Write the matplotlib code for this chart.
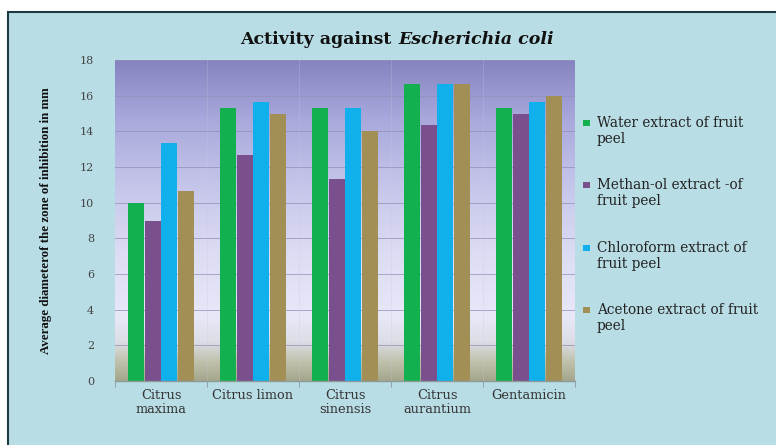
import numpy as np
import matplotlib.pyplot as plt
from matplotlib.colors import LinearSegmentedColormap
from matplotlib.patches import Rectangle

categories = ["Citrus\nmaxima", "Citrus limon", "Citrus\nsinensis", "Citrus\naurantium", "Gentamicin"]
series_names = [
    "Water extract of fruit\npeel",
    "Methan-ol extract -of\nfruit peel",
    "Chloroform extract of\nfruit peel",
    "Acetone extract of fruit\npeel",
]
water = [10.0, 15.33, 15.33, 16.67, 15.33]
methanol = [9.0, 12.67, 11.33, 14.33, 15.0]
chloroform = [13.33, 15.67, 15.33, 16.67, 15.67]
acetone = [10.67, 15.0, 14.0, 16.67, 16.0]
yticks = [0, 2, 4, 6, 8, 10, 12, 14, 16, 18]

series = [water, methanol, chloroform, acetone]
colors = ["#12b04e", "#7a4f8e", "#10b0ec", "#a18f55"]

wide = ["DejaVu Serif"]
plt.rcParams["font.family"] = ["Liberation Serif", "DejaVu Serif"]

W, H = 776, 445
fig = plt.figure(figsize=(W / 100, H / 100), dpi=100, facecolor="white")

# light blue chart panel with a dark frame along the top and left
fig.patches.append(Rectangle((8 / W, -0.05), 1.1, 1 - 12 / H + 0.05,
                             transform=fig.transFigure, facecolor="#b9dde5",
                             edgecolor="#1f3b42", linewidth=1.5, zorder=-10))

ax = fig.add_axes([115 / W, 1 - 381 / H, 460 / W, 321 / H])
ax.set_xlim(-0.5, len(categories) - 0.5)
ax.set_ylim(0, 18)

# vertical gradient behind the bars
stops = [
    (0.00, "#a4a78c"),
    (0.06, "#c0c2ac"),
    (0.12, "#dcdde6"),
    (0.20, "#e8e8f8"),
    (0.40, "#dcdcf4"),
    (0.62, "#c4c4ea"),
    (0.82, "#a8a8dc"),
    (1.00, "#8684c0"),
]
cmap = LinearSegmentedColormap.from_list("panel", stops)
grad = np.linspace(0, 1, 256).reshape(-1, 1)
ax.imshow(grad, cmap=cmap, origin="lower", aspect="auto",
          extent=(-0.5, len(categories) - 0.5, 0, 18), zorder=0)

for y in yticks[1:]:
    ax.axhline(y, color="#9290b8", linewidth=0.7, alpha=0.75, zorder=1)
for xb in np.arange(0.5, len(categories) - 0.5, 1):
    ax.axvline(xb, color="#c8c8dc", linewidth=0.6, alpha=0.3, zorder=1)

x = np.arange(len(categories))
width = 0.18
for i, (vals, name, col) in enumerate(zip(series, series_names, colors)):
    ax.bar(x + (i - 1.5) * width, vals, width * 0.94, color=col, label=name, zorder=2)

for s in ["top", "right", "left"]:
    ax.spines[s].set_visible(False)
ax.spines["bottom"].set_color("#8d9a9a")
ax.spines["bottom"].set_linewidth(1.0)

ax.set_yticks(yticks)
ax.set_yticklabels([str(v) for v in yticks], fontsize=8, color="#444444", family=wide)
ax.tick_params(axis="y", length=0, pad=15)
ax.set_xticks(x)
ax.set_xticklabels(categories, fontsize=9.3, color="#333333", linespacing=1.05, family=wide)
ax.tick_params(axis="x", length=0, pad=6)
ax.set_xticks(np.arange(-0.5, len(categories), 1), minor=True)
ax.tick_params(axis="x", which="minor", length=4, color="#8d9a9a")

ax.set_ylabel("Average diameterof the zone of inhibition in mm", fontsize=9.3,
              fontweight="bold", color="#111111")
ax.yaxis.set_label_coords(-0.137, 0.5)

fig.text(398 / W, 1 - 39 / H, "Activity against ", fontsize=12.5, fontweight="bold",
         ha="right", va="center", color="#111111", family=wide)
fig.text(398 / W, 1 - 39 / H, "Escherichia coli", fontsize=12.5, fontweight="bold",
         style="italic", ha="left", va="center", color="#111111", family=wide)

# legend: square swatch beside the first line of each two-line entry
leg_top = [123, 185, 248, 310]
for yy, name, col in zip(leg_top, series_names, colors):
    fig.patches.append(Rectangle((583 / W, 1 - (yy + 3) / H), 7 / W, 6 / H,
                                 transform=fig.transFigure, facecolor=col,
                                 edgecolor="none"))
    fig.text(597 / W, 1 - (yy - 7) / H, name, fontsize=9.8, ha="left", va="top",
             color="#222222", family=wide, linespacing=1.15)

fig.savefig("out.png", dpi=100, facecolor=fig.get_facecolor())
